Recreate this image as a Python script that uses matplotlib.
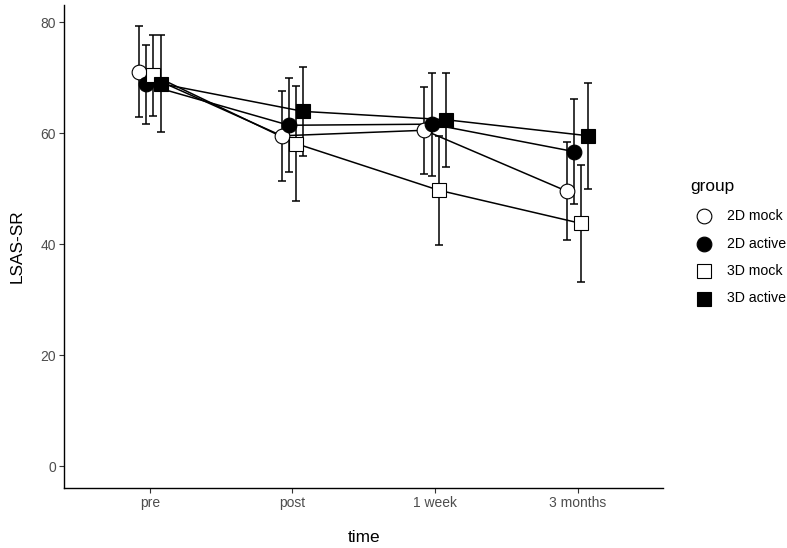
import matplotlib
matplotlib.use("Agg")
import matplotlib.pyplot as plt
import numpy as np
from matplotlib.lines import Line2D

plt.rcParams['font.family'] = ['Liberation Sans', 'DejaVu Sans']

# ---- data ----
times = ["pre", "post", "1 week", "3 months"]
groups = ["2D mock", "2D active", "3D mock", "3D active"]

mean_2d_mock = [71.0, 59.5, 60.5, 49.5]
sd_2d_mock = [8.2, 8.1, 7.8, 8.8]
mean_2d_active = [68.75, 61.4, 61.6, 56.65]
sd_2d_active = [7.15, 8.45, 9.3, 9.45]
mean_3d_mock = [70.4, 58.1, 49.7, 43.7]
sd_3d_mock = [7.3, 10.4, 9.8, 10.5]
mean_3d_active = [68.9, 63.9, 62.4, 59.5]
sd_3d_active = [8.8, 8.0, 8.5, 9.5]

means = [mean_2d_mock, mean_2d_active, mean_3d_mock, mean_3d_active]
sds = [sd_2d_mock, sd_2d_active, sd_3d_mock, sd_3d_active]

# ---- styles ----
markers = ['o', 'o', 's', 's']
fills = ['white', 'black', 'white', 'black']
msizes = [10.6, 10.6, 9.6, 9.6]
dodge = [-0.075, -0.025, 0.025, 0.075]

W, H = 787, 548
fig = plt.figure(figsize=(W / 100, H / 100), dpi=100)
left, right, top, bottom = 64.3, 663.3, 4.5, 488.0
ax = fig.add_axes([left / W, 1 - bottom / H, (right - left) / W, (bottom - top) / H])

x = np.arange(1, len(times) + 1)

for i in range(len(groups)):
    xs = x + dodge[i]
    ax.plot(xs, means[i], color='black', lw=1.1, zorder=2)
for i in range(len(groups)):
    xs = x + dodge[i]
    ax.errorbar(xs, means[i], yerr=sds[i], fmt='none', ecolor='black',
                elinewidth=1.1, capsize=2.6, capthick=1.1, zorder=3)
for i in range(len(groups)):
    xs = x + dodge[i]
    ax.plot(xs, means[i], linestyle='none', marker=markers[i], ms=msizes[i],
            mfc=fills[i], mec='black', mew=0.8, zorder=4 + i)

ax.set_xlim(0.4, 4.6)
ax.set_ylim(-3.96, 83.16)
ax.set_xticks(x)
ax.set_xticklabels(times)
ax.set_yticks([0, 20, 40, 60, 80])

for s in ['top', 'right']:
    ax.spines[s].set_visible(False)
for s in ['left', 'bottom']:
    ax.spines[s].set_linewidth(1.0)
    ax.spines[s].set_color('black')

ax.tick_params(axis='both', colors='#333333', labelcolor='#4D4D4D',
               length=3.4, width=0.8, labelsize=10, pad=2.6)

ax.set_xlabel('time', fontsize=12.4, color='black', labelpad=14.5)
ax.set_ylabel('LSAS-SR', fontsize=12.4, color='black', labelpad=11)

# ---- legend ----
fig.text(690.7 / W, 1 - 186 / H, 'group', fontsize=12.4, ha='left', va='center')
row_y = [216, 243.5, 271, 298.5]
for i, g in enumerate(groups):
    fy = 1 - row_y[i] / H
    fig.add_artist(Line2D([704 / W], [fy], transform=fig.transFigure,
                          linestyle='none', marker=markers[i], ms=msizes[i],
                          mfc=fills[i], mec='black', mew=0.8))
    fig.text(727 / W, fy, g, fontsize=10.2, ha='left', va='center')

fig.savefig('out.png', dpi=100)
